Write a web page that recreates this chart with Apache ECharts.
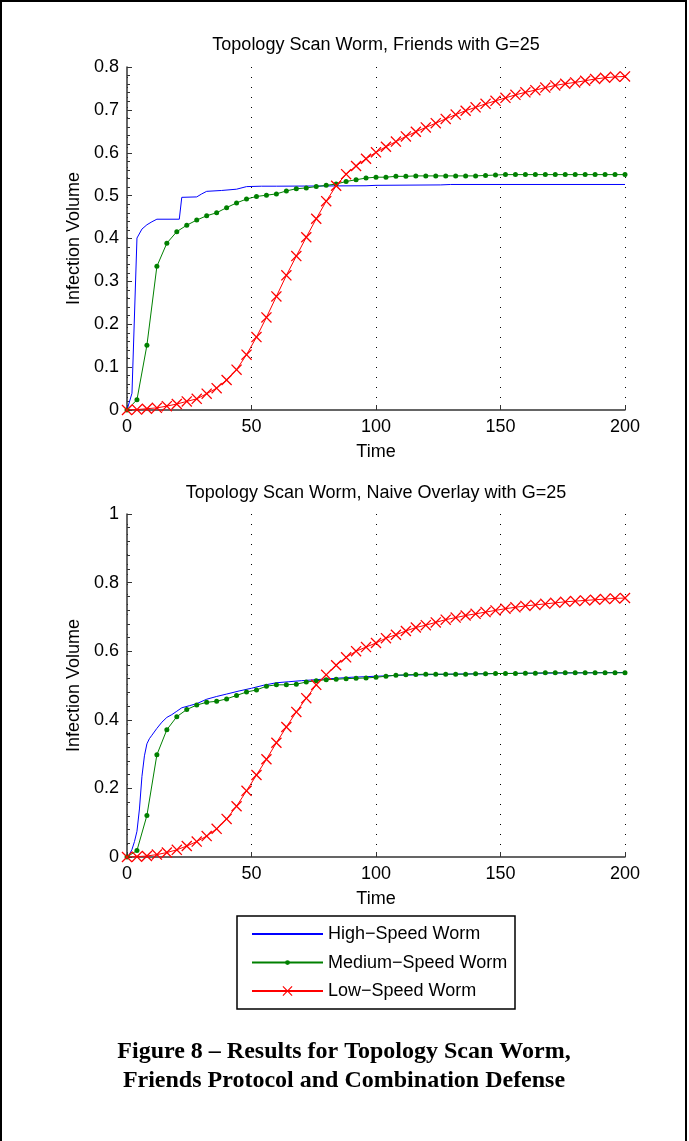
<!DOCTYPE html>
<html><head><meta charset="utf-8">
<script src="https://cdn.jsdelivr.net/npm/echarts@6/dist/echarts.min.js"></script>
<style>html,body{margin:0;padding:0;background:#fff}#c{width:689px;height:1141px}</style>
</head><body><div id="c"></div><script>
// ---------- data ----------
const markerTimes = [0,4,8,12,16,20,24,28,32,36,40,44,48,52,56,60,64,68,72,76,80,84,88,92,96,100,104,108,112,116,120,124,128,132,136,140,144,148,152,156,160,164,168,172,176,180,184,188,192,196,200];

// Top panel: Friends with G=25
const topHighT = [0,2,4,6,8,10,12,21,22,28,30,32,38,44,48,54,60,96,100,126,130,200];
const topHighV = [0,0.039,0.401,0.422,0.432,0.439,0.445,0.445,0.496,0.497,0.504,0.510,0.512,0.515,0.521,0.522,0.522,0.523,0.524,0.525,0.526,0.526];
const topMedium = [0,0.024,0.151,0.335,0.389,0.416,0.431,0.443,0.453,0.460,0.472,0.483,0.492,0.498,0.501,0.504,0.511,0.516,0.518,0.521,0.524,0.527,0.533,0.537,0.541,0.543,0.543,0.545,0.545,0.546,0.546,0.546,0.546,0.546,0.546,0.546,0.547,0.548,0.549,0.549,0.549,0.549,0.549,0.549,0.549,0.549,0.549,0.549,0.549,0.549,0.549];
const topLow = [0,0.001,0.003,0.005,0.009,0.014,0.020,0.026,0.038,0.051,0.070,0.094,0.129,0.170,0.216,0.265,0.314,0.359,0.403,0.446,0.487,0.523,0.550,0.569,0.586,0.601,0.614,0.626,0.638,0.649,0.659,0.669,0.679,0.689,0.698,0.706,0.714,0.721,0.728,0.735,0.741,0.746,0.752,0.757,0.761,0.764,0.768,0.772,0.775,0.777,0.778];

// Bottom panel: Naive Overlay with G=25
const botHighT = [0,1,2,3,4,5,6,7,8,9,10,12,14,16,18,20,22,25,28,32,36,40,45,50,55,60,65,70,80,90,100,110,130,150,200];
const botHighV = [0,0.008,0.022,0.045,0.075,0.14,0.235,0.295,0.33,0.345,0.355,0.375,0.393,0.407,0.415,0.425,0.435,0.441,0.447,0.460,0.468,0.475,0.484,0.492,0.501,0.508,0.511,0.514,0.519,0.524,0.527,0.530,0.533,0.535,0.538];
const botMedium = [0,0.019,0.121,0.298,0.371,0.409,0.430,0.443,0.451,0.454,0.461,0.471,0.481,0.487,0.498,0.502,0.502,0.504,0.510,0.514,0.517,0.518,0.520,0.521,0.522,0.524,0.527,0.530,0.531,0.532,0.533,0.533,0.533,0.533,0.533,0.534,0.534,0.535,0.535,0.535,0.536,0.536,0.537,0.537,0.537,0.537,0.537,0.537,0.537,0.537,0.537];
const botLow = [0,0.001,0.003,0.007,0.013,0.021,0.032,0.045,0.061,0.082,0.111,0.148,0.193,0.239,0.285,0.333,0.379,0.423,0.463,0.502,0.531,0.559,0.582,0.600,0.612,0.624,0.638,0.648,0.659,0.669,0.676,0.684,0.692,0.698,0.704,0.709,0.714,0.719,0.724,0.728,0.732,0.735,0.738,0.741,0.744,0.746,0.748,0.750,0.752,0.754,0.755];

const seriesNames = ['High\u2212Speed Worm','Medium\u2212Speed Worm','Low\u2212Speed Worm'];
const panelTitles = ['Topology Scan Worm, Friends with G=25','Topology Scan Worm, Naive Overlay with G=25'];
const captionLines = ['Figure 8 \u2013 Results for Topology Scan Worm,','Friends Protocol and Combination Defense'];
const xAxisName = 'Time';
const yAxisName = 'Infection Volume';

// ---------- build ----------
const F = "'Liberation Sans', Arial, Helvetica, sans-serif";
const pairs = (t, v) => t.map((x, i) => [x, v[i]]);
const XPATH = 'path://M0,1L1,0L6,5L11,0L12,1L7,6L12,11L11,12L6,7L1,12L0,11L5,6Z';
const AX = '#333';

function xAx(g) {
  return {
    type: 'value', gridIndex: g, min: 0, max: 200, interval: 50,
    name: xAxisName, nameLocation: 'middle', nameGap: 33,
    nameTextStyle: {fontSize: 18, color: '#000', fontFamily: F},
    axisLine: {show: true, onZero: false, lineStyle: {color: AX, width: 1.5}},
    axisTick: {show: true, inside: true, length: 5, lineStyle: {color: AX}},
    axisLabel: {fontSize: 18, color: '#000', fontFamily: F, margin: 8},
    splitLine: {show: true, lineStyle: {color: '#000', type: [1, 9], width: 1}}
  };
}
function yAx(g, max, interval) {
  return {
    type: 'value', gridIndex: g, min: 0, max: max, interval: interval,
    name: yAxisName, nameLocation: 'middle', nameGap: 44,
    nameTextStyle: {fontSize: 18, color: '#000', fontFamily: F},
    axisLine: {show: true, onZero: false, lineStyle: {color: AX, width: 1.5}},
    axisTick: {show: true, inside: true, length: 5, lineStyle: {color: AX}},
    minorTick: {show: true, splitNumber: 5, length: 3, lineStyle: {color: AX}},
    axisLabel: {fontSize: 18, color: '#000', fontFamily: F, margin: 8},
    splitLine: {show: false}
  };
}
function panelSeries(g, hT, hV, med, low) {
  return [
    {name: seriesNames[0], type: 'line', xAxisIndex: g, yAxisIndex: g, data: pairs(hT, hV),
     symbol: 'none', lineStyle: {color: '#0000ff', width: 1}, itemStyle: {color: '#0000ff'}},
    {name: seriesNames[1], type: 'line', xAxisIndex: g, yAxisIndex: g, data: pairs(markerTimes, med),
     symbol: 'circle', symbolSize: 5, showSymbol: true, lineStyle: {color: '#008000', width: 1}, itemStyle: {color: '#008000'}},
    {name: seriesNames[2], type: 'line', xAxisIndex: g, yAxisIndex: g, data: pairs(markerTimes, low),
     symbol: XPATH, symbolSize: 11, symbolKeepAspect: true, showSymbol: true, lineStyle: {color: '#ff0000', width: 1}, itemStyle: {color: '#ff0000'}}
  ];
}

const chart = echarts.init(document.getElementById('c'), null, {renderer: 'canvas'});
chart.setOption({
  animation: false,
  backgroundColor: '#fff',
  grid: [
    {left: 127, top: 67, width: 498, height: 343},
    {left: 127, top: 514, width: 498, height: 343}
  ],
  xAxis: [xAx(0), xAx(1)],
  yAxis: [yAx(0, 0.8, 0.1), yAx(1, 1, 0.2)],
  legend: [
    {data: [{name: seriesNames[0], itemStyle: {opacity: 0}}, {name: seriesNames[1]}], orient: 'vertical', left: 251, top: 924, padding: 0,
     itemWidth: 71, itemHeight: 6, itemGap: 8.6, selectedMode: false,
     textStyle: {fontSize: 18, color: '#000', fontFamily: F, lineHeight: 20}},
    {data: [seriesNames[2]], orient: 'vertical', left: 251, top: 981, padding: 0,
     itemWidth: 71, itemHeight: 12.5, selectedMode: false,
     textStyle: {fontSize: 18, color: '#000', fontFamily: F, lineHeight: 20}}
  ],
  series: [].concat(
    panelSeries(0, topHighT, topHighV, topMedium, topLow),
    panelSeries(1, botHighT, botHighV, botMedium, botLow)
  ),
  graphic: [
    {type: 'rect', shape: {x: 1, y: 1, width: 685, height: 1160}, style: {fill: 'none', stroke: '#000', lineWidth: 2}, silent: true},
    {type: 'rect', shape: {x: 237, y: 916, width: 278, height: 93}, style: {fill: 'none', stroke: '#000', lineWidth: 1.5}, silent: true},
    {type: 'text', x: 376, y: 45, style: {text: panelTitles[0], align: 'center', verticalAlign: 'middle', fontSize: 18, fontFamily: F, fill: '#000'}, silent: true},
    {type: 'text', x: 376, y: 493, style: {text: panelTitles[1], align: 'center', verticalAlign: 'middle', fontSize: 18, fontFamily: F, fill: '#000'}, silent: true},
    {type: 'text', x: 344, y: 1052, style: {text: captionLines[0], align: 'center', verticalAlign: 'middle', fontSize: 24, fontWeight: 'bold', fontFamily: "'Liberation Serif', 'Times New Roman', serif", fill: '#000'}, silent: true},
    {type: 'text', x: 344, y: 1081, style: {text: captionLines[1], align: 'center', verticalAlign: 'middle', fontSize: 24, fontWeight: 'bold', fontFamily: "'Liberation Serif', 'Times New Roman', serif", fill: '#000'}, silent: true}
  ]
});
</script></body></html>
